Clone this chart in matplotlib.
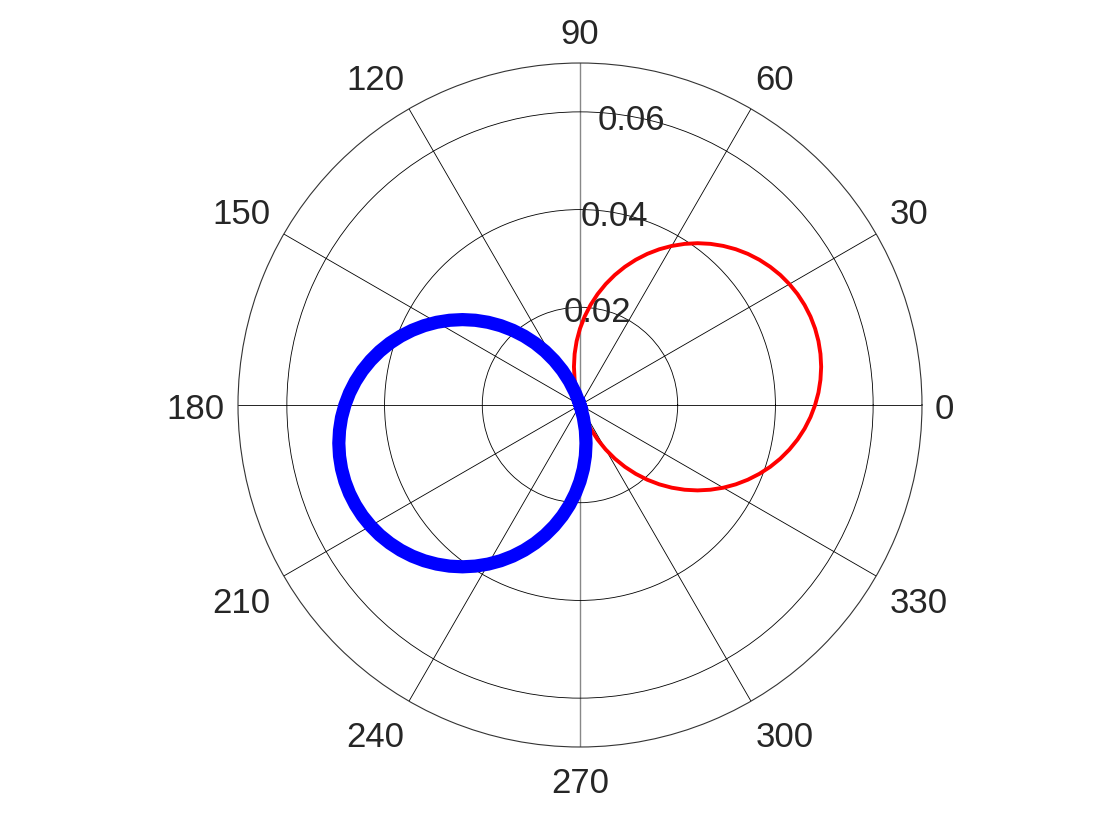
import numpy as np
import matplotlib.pyplot as plt

plt.rcParams['font.family'] = ['Liberation Sans', 'DejaVu Sans']

# angles (degrees) and radii
red_theta = [-72, -69, -66, -63, -60, -57, -54, -51, -48, -45, -42, -39, -36, -33, -30,
             -27, -24, -21, -18, -15, -12, -9, -6, -3, 0, 3, 6, 9, 12, 15, 18,
             21, 24, 27, 30, 33, 36, 39, 42, 45, 48, 51, 54, 57, 60, 63, 66,
             69, 72, 75, 78, 81, 84, 87, 90, 93, 96, 99, 102, 105, 108]
red_r = [0.0, 0.00265, 0.00529, 0.00792, 0.01052, 0.01310, 0.01564, 0.01813, 0.02058,
         0.02297, 0.02530, 0.02756, 0.02974, 0.03184, 0.03386, 0.03578, 0.03760, 0.03932,
         0.04094, 0.04244, 0.04382, 0.04509, 0.04623, 0.04724, 0.04812, 0.04888, 0.04949,
         0.04998, 0.05032, 0.05053, 0.05060, 0.05053, 0.05032, 0.04998, 0.04949, 0.04888,
         0.04812, 0.04724, 0.04623, 0.04509, 0.04382, 0.04244, 0.04094, 0.03932, 0.03760,
         0.03578, 0.03386, 0.03184, 0.02974, 0.02756, 0.02530, 0.02297, 0.02058, 0.01813,
         0.01564, 0.01310, 0.01052, 0.00792, 0.00529, 0.00265, 0.0]

blue_theta = [108, 111, 114, 117, 120, 123, 126, 129, 132, 135, 138, 141, 144, 147, 150,
              153, 156, 159, 162, 165, 168, 171, 174, 177, 180, 183, 186, 189, 192, 195, 198,
              201, 204, 207, 210, 213, 216, 219, 222, 225, 228, 231, 234, 237, 240, 243, 246,
              249, 252, 255, 258, 261, 264, 267, 270, 273, 276, 279, 282, 285, 288]
blue_r = [0.0, 0.00265, 0.00529, 0.00792, 0.01052, 0.01310, 0.01564, 0.01813, 0.02058,
          0.02297, 0.02530, 0.02756, 0.02974, 0.03184, 0.03386, 0.03578, 0.03760, 0.03932,
          0.04094, 0.04244, 0.04382, 0.04509, 0.04623, 0.04724, 0.04812, 0.04888, 0.04949,
          0.04998, 0.05032, 0.05053, 0.05060, 0.05053, 0.05032, 0.04998, 0.04949, 0.04888,
          0.04812, 0.04724, 0.04623, 0.04509, 0.04382, 0.04244, 0.04094, 0.03932, 0.03760,
          0.03578, 0.03386, 0.03184, 0.02974, 0.02756, 0.02530, 0.02297, 0.02058, 0.01813,
          0.01564, 0.01310, 0.01052, 0.00792, 0.00529, 0.00265, 0.0]

r_ticks = [0.02, 0.04, 0.06]
r_max = 0.07
theta_ticks = [0, 30, 60, 90, 120, 150, 180, 210, 240, 270, 300, 330]

txt_color = '#262626'

fig = plt.figure(figsize=(11.2, 8.4), dpi=100)
ax = fig.add_axes([0.2125, 0.1107, 0.6107, 0.8143], projection='polar')

ax.set_rlim(0, r_max)
ax.set_xticks(np.radians(theta_ticks))
ax.set_yticks(r_ticks)
ax.set_xticklabels([])
ax.set_yticklabels([])
ax.grid(True, color='black', linewidth=0.6)
ax.spines['polar'].set_linewidth(0.8)
ax.spines['polar'].set_color('#333333')

# the 90-270 spoke is grey in the original
gl = ax.xaxis.get_gridlines()
for i in (3, 9):
    gl[i].set_color('#888888')
    gl[i].set_linewidth(1.0)

ax.plot(np.radians(red_theta), red_r, color='red', linewidth=2.8,
        solid_joinstyle='round', zorder=3)
ax.plot(np.radians(blue_theta), blue_r, color='blue', linewidth=9.5,
        solid_joinstyle='round', zorder=4)

for v in r_ticks:
    ax.annotate(f'{v:.2f}', (np.radians(80), v), xytext=(0, -4),
                textcoords='offset pixels', ha='center', va='center',
                fontsize=25, color=txt_color, zorder=5)

# angle labels: wider labels are pushed a bit further out sideways
for t in theta_ticks:
    lab = str(t)
    c, s = np.cos(np.radians(t)), np.sin(np.radians(t))
    c = round(c, 6)
    dx = np.sign(c) * 10 * (len(lab) - 2) + 20 * c * s ** 2
    dy = 20 * s * c ** 2
    ax.annotate(lab, (np.radians(t), r_max * 1.095), xytext=(dx, dy - 4),
                textcoords='offset pixels', ha='center', va='center',
                fontsize=25, color=txt_color, annotation_clip=False)

fig.savefig('out.png', dpi=100)
